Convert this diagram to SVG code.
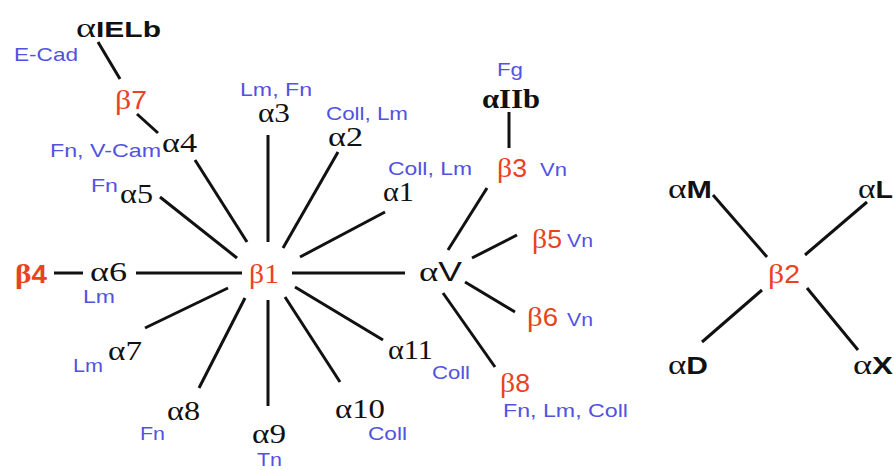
<svg xmlns="http://www.w3.org/2000/svg" width="894" height="470" viewBox="0 0 894 470">
<style>
.k { font-family: "Liberation Serif", serif; font-size: 28px; fill: #111; }
.sb { font-family: "Liberation Sans", Arial, sans-serif; font-weight: bold; }
.sr { font-family: "Liberation Sans", Arial, sans-serif; }
.r { font-family: "Liberation Serif", serif; font-size: 28px; fill: #e8431f; }
.b { font-family: "Liberation Sans", Arial, sans-serif; font-size: 19px; fill: #5252e2; }
.edges line { stroke: #111; stroke-width: 3; stroke-linecap: butt; }
</style>
<rect width="894" height="470" fill="#fff"/>
<g class="edges" id="connectors">
  <line x1="98" y1="42" x2="120" y2="79"/>
  <line x1="137" y1="114" x2="158" y2="133"/>
  <line x1="195" y1="160" x2="247" y2="242"/>
  <line x1="160" y1="197" x2="237" y2="258"/>
  <line x1="54" y1="273" x2="83" y2="273"/>
  <line x1="136" y1="273" x2="242" y2="273"/>
  <line x1="145" y1="328" x2="228" y2="288"/>
  <line x1="199" y1="388" x2="245" y2="298"/>
  <line x1="268" y1="300" x2="268" y2="406"/>
  <line x1="285" y1="297" x2="340" y2="382"/>
  <line x1="295" y1="287" x2="383" y2="340"/>
  <line x1="300" y1="257" x2="385" y2="212"/>
  <line x1="283" y1="248" x2="338" y2="152"/>
  <line x1="268" y1="135" x2="268" y2="242"/>
  <line x1="292" y1="273" x2="405" y2="273"/>
  <line x1="448" y1="250" x2="487" y2="188"/>
  <line x1="472" y1="258" x2="517" y2="235"/>
  <line x1="465" y1="282" x2="515" y2="312"/>
  <line x1="443" y1="293" x2="495" y2="367"/>
  <line x1="509" y1="112" x2="509" y2="148"/>
  <line x1="713" y1="195" x2="767" y2="257"/>
  <line x1="867" y1="202" x2="805" y2="255"/>
  <line x1="702" y1="342" x2="762" y2="290"/>
  <line x1="807" y1="288" x2="858" y2="350"/>
</g>
<g id="aIELb">
  <text class="k" x="76" y="37" textLength="85" lengthAdjust="spacingAndGlyphs">α<tspan class="sb" font-size="22">IELb</tspan></text>
  <text class="b" x="14" y="61" textLength="64" lengthAdjust="spacingAndGlyphs">E-Cad</text>
</g>
<g id="b7"><text class="r" x="115" y="109" textLength="32" lengthAdjust="spacingAndGlyphs">β<tspan class="sr" font-size="25">7</tspan></text></g>
<g id="a4">
  <text class="k" x="162" y="152" textLength="35" lengthAdjust="spacingAndGlyphs">α4</text>
  <text class="b" x="50" y="157" textLength="111" lengthAdjust="spacingAndGlyphs">Fn, V-Cam</text>
</g>
<g id="a5">
  <text class="k" x="120" y="203" textLength="33" lengthAdjust="spacingAndGlyphs">α5</text>
  <text class="b" x="91" y="192" textLength="27" lengthAdjust="spacingAndGlyphs">Fn</text>
</g>
<g id="b4"><text class="r" x="15" y="283" font-weight="bold" textLength="32" lengthAdjust="spacingAndGlyphs">β<tspan class="sb" font-size="25">4</tspan></text></g>
<g id="a6">
  <text class="k" x="90" y="281" textLength="37" lengthAdjust="spacingAndGlyphs">α6</text>
  <text class="b" x="83" y="303" textLength="32" lengthAdjust="spacingAndGlyphs">Lm</text>
</g>
<g id="a7">
  <text class="k" x="108" y="360" textLength="34" lengthAdjust="spacingAndGlyphs">α7</text>
  <text class="b" x="73" y="372" textLength="30" lengthAdjust="spacingAndGlyphs">Lm</text>
</g>
<g id="a8">
  <text class="k" x="167" y="420" textLength="33" lengthAdjust="spacingAndGlyphs">α8</text>
  <text class="b" x="140" y="440" textLength="25" lengthAdjust="spacingAndGlyphs">Fn</text>
</g>
<g id="a9">
  <text class="k" x="252" y="443" textLength="34" lengthAdjust="spacingAndGlyphs">α9</text>
  <text class="b" x="257" y="466" font-size="17" textLength="25" lengthAdjust="spacingAndGlyphs">Tn</text>
</g>
<g id="a10">
  <text class="k" x="335" y="418" textLength="50" lengthAdjust="spacingAndGlyphs">α10</text>
  <text class="b" x="368" y="440" textLength="39" lengthAdjust="spacingAndGlyphs">Coll</text>
</g>
<g id="a11">
  <text class="k" x="388" y="359" textLength="45" lengthAdjust="spacingAndGlyphs">α11</text>
  <text class="b" x="432" y="379" textLength="38" lengthAdjust="spacingAndGlyphs">Coll</text>
</g>
<g id="a1">
  <text class="k" x="383" y="201" textLength="31" lengthAdjust="spacingAndGlyphs">α1</text>
  <text class="b" x="388" y="175" textLength="84" lengthAdjust="spacingAndGlyphs">Coll, Lm</text>
</g>
<g id="a2">
  <text class="k" x="328" y="146" textLength="35" lengthAdjust="spacingAndGlyphs">α2</text>
  <text class="b" x="326" y="120" textLength="82" lengthAdjust="spacingAndGlyphs">Coll, Lm</text>
</g>
<g id="a3">
  <text class="k" x="258" y="122" textLength="32" lengthAdjust="spacingAndGlyphs">α3</text>
  <text class="b" x="240" y="96" textLength="72" lengthAdjust="spacingAndGlyphs">Lm, Fn</text>
</g>
<g id="b1"><text class="r" x="249" y="283" textLength="30" lengthAdjust="spacingAndGlyphs">β1</text></g>
<g id="aV"><text class="k" x="419" y="281" textLength="43" lengthAdjust="spacingAndGlyphs">α<tspan class="sr" font-size="27">V</tspan></text></g>
<g id="aIIb">
  <text class="k" x="482" y="108" font-weight="bold" textLength="58" lengthAdjust="spacingAndGlyphs">αIIb</text>
  <text class="b" x="497" y="76" textLength="26" lengthAdjust="spacingAndGlyphs">Fg</text>
</g>
<g id="b3">
  <text class="r" x="497" y="177" textLength="30" lengthAdjust="spacingAndGlyphs">β<tspan class="sr" font-size="25">3</tspan></text>
  <text class="b" x="540" y="176" textLength="27" lengthAdjust="spacingAndGlyphs">Vn</text>
</g>
<g id="b5">
  <text class="r" x="532" y="248" textLength="30" lengthAdjust="spacingAndGlyphs">β<tspan class="sr" font-size="25">5</tspan></text>
  <text class="b" x="567" y="247" textLength="26" lengthAdjust="spacingAndGlyphs">Vn</text>
</g>
<g id="b6">
  <text class="r" x="527" y="326" textLength="31" lengthAdjust="spacingAndGlyphs">β<tspan class="sr" font-size="25">6</tspan></text>
  <text class="b" x="567" y="326" textLength="26" lengthAdjust="spacingAndGlyphs">Vn</text>
</g>
<g id="b8">
  <text class="r" x="500" y="392" textLength="30" lengthAdjust="spacingAndGlyphs">β<tspan class="sr" font-size="25">8</tspan></text>
  <text class="b" x="503" y="417" textLength="125" lengthAdjust="spacingAndGlyphs">Fn, Lm, Coll</text>
</g>
<g id="aM"><text class="k" x="668" y="198" textLength="44" lengthAdjust="spacingAndGlyphs">α<tspan class="sb" font-size="24">M</tspan></text></g>
<g id="aL"><text class="k" x="858" y="198" textLength="35" lengthAdjust="spacingAndGlyphs">α<tspan class="sb" font-size="24">L</tspan></text></g>
<g id="b2"><text class="r" x="768" y="283" textLength="32" lengthAdjust="spacingAndGlyphs">β<tspan class="sr" font-size="25">2</tspan></text></g>
<g id="aD"><text class="k" x="668" y="374" textLength="40" lengthAdjust="spacingAndGlyphs">α<tspan class="sb" font-size="24">D</tspan></text></g>
<g id="aX"><text class="k" x="853" y="374" textLength="40" lengthAdjust="spacingAndGlyphs">α<tspan class="sb" font-size="24">X</tspan></text></g>
</svg>
